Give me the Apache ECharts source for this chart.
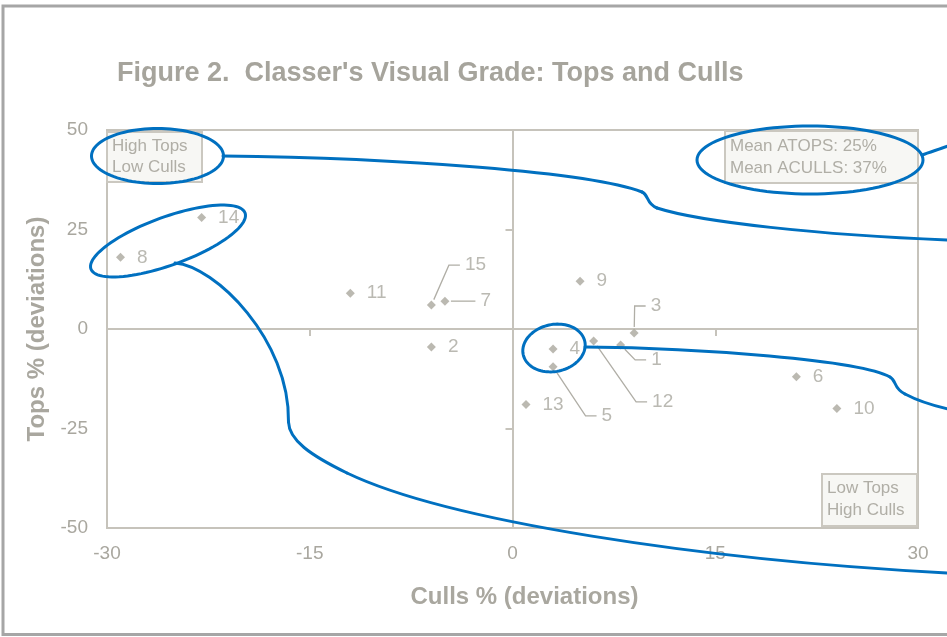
<!DOCTYPE html>
<html>
<head>
<meta charset="utf-8">
<script src="https://cdn.jsdelivr.net/npm/echarts@6/dist/echarts.min.js"></script>
<style>
html,body{margin:0;padding:0;background:#fff;}
#chart{width:947px;height:637px;}
</style>
</head>
<body>
<div id="chart"></div>
<script>
// ---- data ----
const pointLabels = ['1','2','3','4','5','6','7','8','9','10','11','12','13','14','15'];
const cullsDev   = [8, -6, 9, 3, 3, 21, -5, -29, 5, 24, -12, 6, 1, -23, -6];
const topsDev    = [-4, -4.5, -1, -5, -9.5, -12, 7, 18, 12, -20, 9, -3, -19, 28, 6];
const xTicks = { min: -30, max: 30, interval: 15 };
const yTicks = { min: -50, max: 50, interval: 25 };
const titleText = "Figure 2.  Classer's Visual Grade: Tops and Culls";
const xName = 'Culls % (deviations)';
const yName = 'Tops % (deviations)';
const noteTopLeft = ['High Tops', 'Low Culls'];
const noteMeans = ['Mean ATOPS: 25%', 'Mean ACULLS: 37%'];
const noteBottomRight = ['Low Tops', 'High Culls'];

// label placement (pixels) for labels with leader lines
const leaderOffsets = { '15': [17, -40], '7': [19, 0], '3': [0, -27], '1': [14, 15], '12': [42, 61], '5': [32, 49] };

const TXT = '#a9a79f';
const AX = '#c6c3bb';
const BLUE = '#0070c0';
const FONT = 'Liberation Sans, Arial, sans-serif';
const SYM = 9, LBL_DIST = 12;

const seriesData = pointLabels.map((n, i) => ({ name: n, value: [cullsDev[i], topsDev[i]] }));

function ellipse(cx, cy, a, b, deg) {
  const r = deg * Math.PI / 180, pts = [];
  for (let i = 0; i < 96; i++) {
    const t = i / 96 * Math.PI * 2;
    pts.push([cx + a * Math.cos(t) * Math.cos(r) - b * Math.sin(t) * Math.sin(r),
              cy + a * Math.cos(t) * Math.sin(r) + b * Math.sin(t) * Math.cos(r)]);
  }
  return { type: 'polygon', z: 100, shape: { points: pts }, style: { fill: null, stroke: BLUE, lineWidth: 3 } };
}
function bez(p0, c1, c2, p3) {
  return { type: 'bezierCurve', z: 100,
    shape: { x1: p0[0], y1: p0[1], cpx1: c1[0], cpy1: c1[1], cpx2: c2[0], cpy2: c2[1], x2: p3[0], y2: p3[1] },
    style: { fill: null, stroke: BLUE, lineWidth: 3, lineCap: 'round' } };
}
function noteBox(x, y, w, h, lines, lh) {
  return [
    { type: 'rect', z: 50, shape: { x: x, y: y, width: w, height: h },
      style: { fill: '#f7f7f4', stroke: '#cbc8c0', lineWidth: 2 } },
    { type: 'text', z: 51, x: x + 5, y: y + 4,
      style: { text: lines.join('\n'), font: '17px ' + FONT, fill: '#b0aea6', lineHeight: lh, verticalAlign: 'top' } }
  ];
}

const baseGraphics = [
  { type: 'rect', z: 0, shape: { x: 3, y: 6, width: 1000, height: 628.5 },
    style: { fill: null, stroke: '#a6a6a6', lineWidth: 3 } },
  ...noteBox(107, 132, 95, 50, noteTopLeft, 21),
  ...noteBox(725, 131, 193, 52, noteMeans, 22),
  ...noteBox(822, 474, 95, 52, noteBottomRight, 21.5),
  ellipse(157.5, 156, 66, 27.5, 0),
  ellipse(810, 160, 113, 34, 0),
  ellipse(168, 241, 82, 24, -20),
  ellipse(554, 348, 31.5, 23.5, -12),
  // high tops -> right
  bez([223,156], [400,158], [590,172], [642,192]),
  bez([642,192], [649,195], [646,204], [657,208]),
  bez([657,208], [700,222], [820,235], [948,240]),
  // means -> right
  bez([922,155], [930,152], [940,149], [948,146]),
  // 8/14 -> down and right
  bez([175,263], [215,266], [290,340], [288.5,422]),
  bez([288.5,422], [289,440], [310,455], [347,473]),
  bez([347,473], [447,521], [700,560], [948,573]),
  // 4 -> right
  bez([585,347], [700,348], [860,360], [890,377]),
  bez([890,377], [897,381], [893,388], [905,394]),
  bez([905,394], [920,402], [935,406], [948,409])
];

const chart = echarts.init(document.getElementById('chart'), null, { renderer: 'canvas' });
chart.setOption({
  backgroundColor: '#ffffff',
  animation: false,
  title: {
    text: titleText, left: 117, top: 60, padding: 0,
    textStyle: { fontSize: 27, fontWeight: 'bold', color: '#a6a49c', fontFamily: FONT }
  },
  grid: {
    left: 107, right: 29, top: 130, bottom: 109,
    show: true, borderColor: AX, borderWidth: 2, backgroundColor: 'transparent',
    outerBoundsMode: 'none', containLabel: false
  },
  xAxis: [
    {
      type: 'value', min: xTicks.min, max: xTicks.max, interval: xTicks.interval, position: 'bottom',
      axisLine: { show: false, onZero: false }, axisTick: { show: false }, splitLine: { show: false },
      axisLabel: { margin: 16, fontSize: 19, color: TXT, fontFamily: FONT },
      name: xName, nameLocation: 'middle', nameGap: 57,
      nameTextStyle: { fontSize: 24, fontWeight: 'bold', color: TXT, fontFamily: FONT, padding: [0, 0, 0, 24] }
    },
    {
      type: 'value', min: xTicks.min, max: xTicks.max, interval: xTicks.interval, position: 'bottom',
      axisLine: { show: true, onZero: true, onZeroAxisIndex: 0, lineStyle: { color: AX, width: 2 } },
      axisTick: { show: true, length: 7, lineStyle: { color: AX, width: 2 } },
      axisLabel: { show: false }, splitLine: { show: false }
    }
  ],
  yAxis: [
    {
      type: 'value', min: yTicks.min, max: yTicks.max, interval: yTicks.interval, position: 'left',
      axisLine: { show: false, onZero: false }, axisTick: { show: false }, splitLine: { show: false },
      axisLabel: { margin: 19, fontSize: 19, color: TXT, fontFamily: FONT },
      name: yName, nameLocation: 'middle', nameGap: 58,
      nameTextStyle: { fontSize: 24, fontWeight: 'bold', color: TXT, fontFamily: FONT }
    },
    {
      type: 'value', min: yTicks.min, max: yTicks.max, interval: yTicks.interval, position: 'left',
      axisLine: { show: true, onZero: true, onZeroAxisIndex: 0, lineStyle: { color: AX, width: 2 } },
      axisTick: { show: true, length: 7, lineStyle: { color: AX, width: 2 } },
      axisLabel: { show: false }, splitLine: { show: false }
    }
  ],
  series: [{
    type: 'scatter', xAxisIndex: 0, yAxisIndex: 0,
    symbol: 'diamond', symbolSize: SYM,
    itemStyle: { color: '#aaa89e' },
    data: seriesData,
    label: {
      show: true, position: 'right', distance: LBL_DIST, formatter: '{b}',
      fontSize: 19, color: TXT, fontFamily: FONT
    },
    labelLayout: function (p) {
      const off = leaderOffsets[pointLabels[p.dataIndex]];
      return off ? { dx: off[0], dy: off[1] } : {};
    },
    z: 5
  }],
  graphic: { elements: baseGraphics }
});

// leader lines (Excel style elbow), anchored on the library's own pixel mapping of each point
const leaders = [];
pointLabels.forEach((n, i) => {
  const off = leaderOffsets[n];
  if (!off) return;
  const p = chart.convertToPixel({ seriesIndex: 0 }, [cullsDev[i], topsDev[i]]);
  const lx = p[0] + SYM / 2 + LBL_DIST + off[0];
  const ly = p[1] + off[1];
  const ex = lx - 16, ey = ly, hx = lx - 5;
  const dx = ex - p[0], dy = ey - p[1];
  const len = Math.sqrt(dx * dx + dy * dy) || 1;
  const s = Math.min(6, len);
  leaders.push({
    type: 'polyline', z: 20,
    shape: { points: [[p[0] + dx / len * s, p[1] + dy / len * s], [ex, ey], [hx, ey]] },
    style: { fill: null, stroke: '#b0aea6', lineWidth: 1.3 }
  });
});
chart.setOption({ graphic: { elements: baseGraphics.concat(leaders) } });
</script>
</body>
</html>
